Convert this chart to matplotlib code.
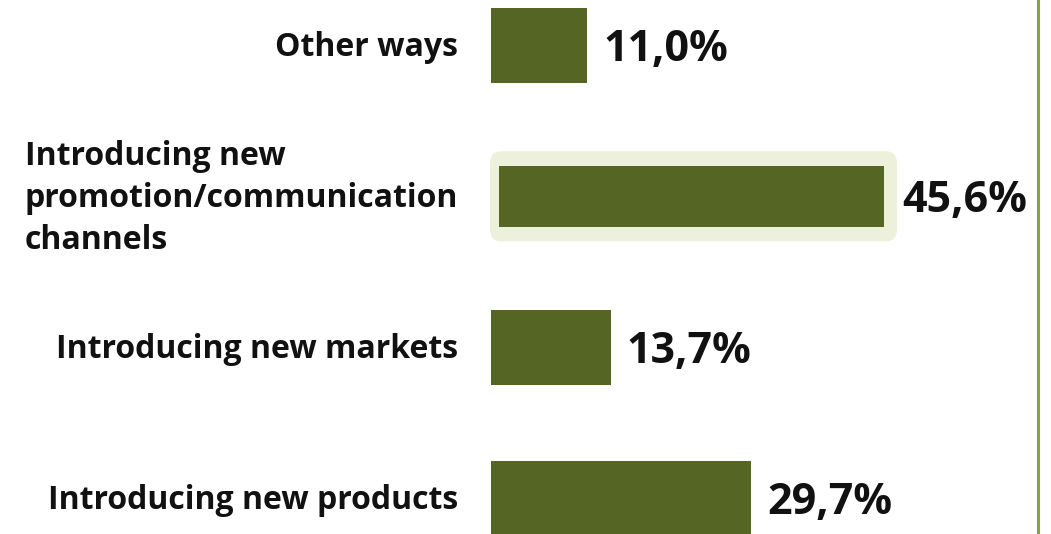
import matplotlib.pyplot as plt
from matplotlib.patches import FancyBboxPatch

categorias = ['Other ways',
              'Introducing new\npromotion/communication\nchannels',
              'Introducing new markets',
              'Introducing new products']
valores = [11.0, 45.6, 13.7, 29.7]
rotulos = ['11,0%', '45,6%', '13,7%', '29,7%']
destaque = 1

verde = '#556524'
fundo_destaque = '#EDF1DC'

plt.rcParams['font.family'] = ['Open Sans', 'DejaVu Sans']

fig = plt.figure(figsize=(10.51, 5.34), dpi=100)
ax = fig.add_axes([0, 0, 1, 1])

# escala: 0% em x=491px, 8.75 px por ponto percentual
px = 8.75
ax.set_xlim(-491 / px, (1051 - 491) / px)
passo = 151.3
ax.set_ylim((534 - 45) / passo, -45 / passo)

for i, (cat, v, rot) in enumerate(zip(categorias, valores, rotulos)):
    if i == destaque:
        caixa = FancyBboxPatch((-1 / px, i - 45 / passo), v + 8 / px, 90 / passo,
                               boxstyle='round,pad=0,rounding_size=1.2',
                               mutation_aspect=0.0077 * px,
                               facecolor=fundo_destaque, edgecolor='none', zorder=1)
        ax.add_patch(caixa)
        ax.barh(i, v - 1.6, left=0.9, height=61 / passo, color=verde, zorder=2)
        x_txt = v + 12 / px
    else:
        ax.barh(i, v, height=75 / passo, color=verde, zorder=2)
        x_txt = v + 16 / px
    ax.text(x_txt, i + 4 / passo, rot, ha='left', va='center',
            fontsize=31, fontweight='bold', color='#111111')
    ax.text(-33 / px, i + 2 / passo, cat, ha='right', va='center', multialignment='left',
            fontsize=23, fontweight='bold', color='#111111', linespacing=1.36)

ax.axvline((1038 - 491) / px, color='#8AA23A', linewidth=2.2)
ax.axis('off')

fig.savefig('out.png', dpi=100)
